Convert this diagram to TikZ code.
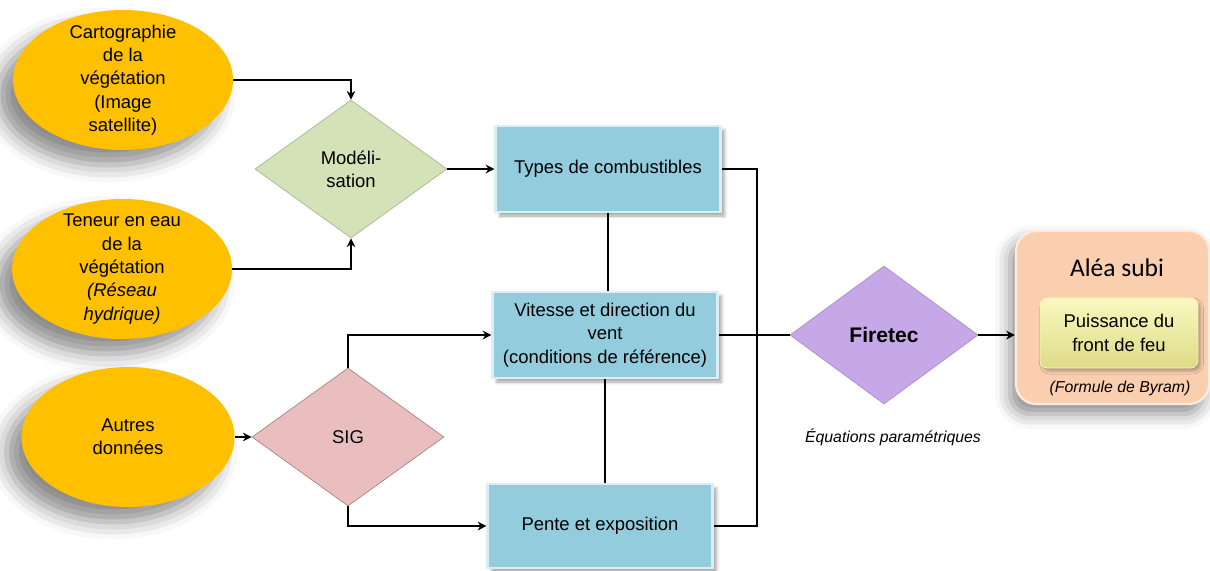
\documentclass[tikz,border=0pt]{standalone}
\usepackage{fontspec}
\setmainfont{Liberation Sans}
\newfontfamily\carlito{Carlito}
\usepackage{tikz}
\usetikzlibrary{arrows.meta,shapes.geometric,shadows.blur}

\definecolor{orangesrc}{RGB}{255,192,0}
\definecolor{greenmod}{RGB}{212,226,184}
\definecolor{pinksig}{RGB}{234,190,190}
\definecolor{purplefire}{RGB}{198,168,232}
\definecolor{bluebox}{RGB}{147,205,221}
\definecolor{blueedge}{RGB}{218,238,243}
\definecolor{peachbox}{RGB}{250,207,176}
\definecolor{yellowbox}{RGB}{246,244,150}

\begin{document}
\begin{tikzpicture}[
	font=\fontsize{10.5}{13.3}\selectfont,
	source/.style={ellipse,fill=orangesrc,align=center,inner xsep=0pt,inner ysep=-0.2cm,
	               minimum width=4.4cm,minimum height=2.8cm,
	               blur shadow={shadow xshift=-0.3cm,shadow yshift=-0.3cm,shadow blur radius=0.35cm,shadow opacity=45}},
	decision/.style={diamond,aspect=1.4,inner sep=0pt,align=center,
	                 minimum width=3.84cm,minimum height=2.76cm},
	databox/.style={rectangle,fill=bluebox,draw=blueedge,line width=1.2pt,align=center,
	                minimum width=4.5cm,minimum height=1.72cm,
	                blur shadow={shadow xshift=0.08cm,shadow yshift=-0.08cm,shadow blur radius=0.06cm,shadow opacity=35}}]

	\useasboundingbox (0,0) rectangle (24.2,-11.4);

	% inputs
	\node[source] (carto) at (2.46,-1.6) {Cartographie\\de la\\végétation\\(Image\\satellite)};
	\node[source] (teneur) at (2.44,-5.38) {Teneur en eau\\de la\\végétation\\\textit{(Réseau}\\\textit{hydrique)}};
	\node[source,minimum width=4.26cm] (autres) at (2.56,-8.74) {Autres\\données};

	% processing
	\node[decision,fill=greenmod,draw=greenmod!80!black] (model) at (7.02,-3.38) {Modéli-\\sation};
	\node[decision,fill=pinksig,draw=pinksig!70!black] (sig) at (6.96,-8.74) {SIG};
	\node[decision,fill=purplefire,draw=purplefire!85!black,minimum width=3.76cm,font=\fontsize{12}{14}\selectfont\bfseries] (firetec) at (17.68,-6.7) {Firetec};
	\node[font=\fontsize{9}{11}\selectfont\itshape] (equations) at (17.86,-8.74) {Équations paramétriques};

	% parameters
	\node[databox] (types) at (12.16,-3.38) {Types de combustibles};
	\node[databox] (vitesse) at (12.1,-6.7) {Vitesse et direction du\\vent\\(conditions de référence)};
	\node[databox,minimum height=1.68cm] (pente) at (12.0,-10.52) {Pente et exposition};
	\coordinate (bus) at (15.14,-6.7);

	% result
	\node[rectangle,rounded corners=0.4cm,fill=peachbox,draw=peachbox!40!white,line width=1.2pt,
	      minimum width=3.86cm,minimum height=3.46cm,
	      blur shadow={shadow xshift=-0.12cm,shadow yshift=-0.2cm,shadow blur radius=0.3cm,shadow opacity=45}] (alea) at (22.25,-6.35) {};
	\node[font=\carlito\fontsize{14.5}{16}\selectfont] (aleatitle) at (22.34,-5.36) {Aléa subi};
	\node[rectangle,rounded corners=0.15cm,top color=yellowbox!60!white,bottom color=yellowbox!90!black,
	      draw=yellowbox!70!white,align=center,minimum width=3.16cm,minimum height=1.4cm,
	      blur shadow={shadow xshift=0.05cm,shadow yshift=-0.06cm,shadow blur radius=0.06cm,shadow opacity=30}] (puiss) at (22.38,-6.66) {Puissance du\\front de feu};
	\node[font=\fontsize{9}{11}\selectfont\itshape] (byram) at (22.4,-7.76) {(Formule de Byram)};

	\begin{scope}[>={Stealth[black,length=5pt,width=5pt]},semithick]
		\draw[->] (carto.east) -| (model.north);
		\draw[->] (teneur.east) -| (model.south);
		\draw[->] (model.east) -- (types.west);
		\draw (types.south) -- (types.south |- vitesse.north);
		\draw (vitesse.south) -- (vitesse.south |- pente.north);
		\draw[->] (autres.east) -- (sig.west);
		\draw[->] (sig.north) |- (vitesse.west);
		\draw[->] (sig.south) |- (pente.west);
		\draw (types.east) -| (bus) |- (pente.east);
		\draw (vitesse.east) -- (firetec.west);
		\draw[->] (firetec.east) -- (firetec.east -| alea.west);
	\end{scope}
\end{tikzpicture}
\end{document}
